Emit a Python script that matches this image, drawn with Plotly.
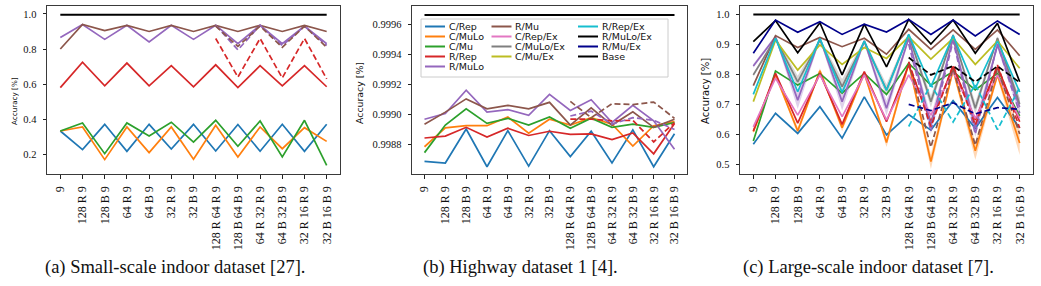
import plotly.graph_objects as go

W, H = 1041, 286

# ---------------- data ----------------
categories = ["9", "128 R 9", "128 B 9", "64 R 9", "64 B 9", "32 R 9", "32 B 9",
              "128 R 64 R 9", "128 B 64 B 9", "64 R 32 R 9", "64 B 32 B 9",
              "32 R 16 R 9", "32 B 16 B 9"]
two_layer_categories = categories[7:]

# (a) Small-scale indoor dataset
a_c_rep = [0.333, 0.227, 0.371, 0.217, 0.371, 0.230, 0.371, 0.219, 0.370, 0.218, 0.371, 0.217, 0.371]
a_c_mulo = [0.333, 0.356, 0.170, 0.356, 0.210, 0.356, 0.172, 0.366, 0.185, 0.356, 0.232, 0.352, 0.274]
a_c_mu = [0.333, 0.379, 0.204, 0.379, 0.305, 0.383, 0.270, 0.394, 0.246, 0.390, 0.185, 0.394, 0.137]
a_r_rep = [0.580, 0.725, 0.590, 0.720, 0.590, 0.705, 0.585, 0.710, 0.580, 0.705, 0.590, 0.705, 0.585]
a_r_mulo = [0.865, 0.940, 0.855, 0.935, 0.840, 0.935, 0.855, 0.935, 0.830, 0.935, 0.830, 0.930, 0.830]
a_r_mu = [0.800, 0.940, 0.905, 0.935, 0.900, 0.935, 0.900, 0.935, 0.900, 0.935, 0.900, 0.935, 0.900]
a_base = [0.995, 0.995, 0.995, 0.995, 0.995, 0.995, 0.995, 0.995, 0.995, 0.995, 0.995, 0.995, 0.995]
a_dash_r_rep = [0.860, 0.640, 0.860, 0.635, 0.860, 0.630]
a_dash_r_mulo = [0.935, 0.795, 0.935, 0.820, 0.930, 0.820]
a_dash_r_mu = [0.930, 0.815, 0.930, 0.810, 0.930, 0.810]

# (b) Highway dataset 1
b_c_rep = [0.998688, 0.998677, 0.998903, 0.998652, 0.998892, 0.998656, 0.998892,
           0.998720, 0.998888, 0.998677, 0.998897, 0.998652, 0.998871]
b_c_mulo = [0.998785, 0.998910, 0.998925, 0.998925, 0.998983, 0.998875, 0.998968,
            0.998929, 0.998978, 0.998935, 0.998789, 0.998925, 0.998953]
b_c_mu = [0.998746, 0.998929, 0.999037, 0.998940, 0.998974, 0.998929, 0.998983,
          0.998908, 0.998974, 0.998914, 0.998935, 0.998914, 0.998946]
b_r_rep = [0.998843, 0.998856, 0.998914, 0.998849, 0.998908, 0.998860, 0.998888,
           0.998867, 0.998871, 0.998832, 0.998877, 0.998738, 0.998940]
b_r_mulo = [0.998968, 0.999006, 0.999161, 0.999015, 0.999032, 0.998994, 0.999133,
            0.999026, 0.999097, 0.998946, 0.999060, 0.998957, 0.998768]
b_r_mu = [0.998935, 0.999015, 0.999103, 0.999037, 0.999060, 0.999037, 0.999080,
          0.998929, 0.999043, 0.998929, 0.999017, 0.998914, 0.998968]
b_base = [0.99966, 0.99966, 0.99966, 0.99966, 0.99966, 0.99966, 0.99966,
          0.99966, 0.99966, 0.99966, 0.99966, 0.99966, 0.99966]
b_dash_r_mu = [0.999086, 0.998978, 0.999071, 0.999065, 0.999082, 0.998974]
b_dash_r_mulo = [0.998989, 0.999022, 0.998935, 0.998978, 0.998961, 0.998900]
b_dash_r_rep = [0.998968, 0.998968, 0.998957, 0.998961, 0.998817, 0.998946]

# (c) Large-scale indoor dataset
c_c_rep = [0.566, 0.669, 0.602, 0.691, 0.586, 0.724, 0.597, 0.665, 0.613, 0.711, 0.619, 0.722, 0.620]
c_c_mulo = [0.608, 0.797, 0.610, 0.811, 0.621, 0.802, 0.572, 0.836, 0.508, 0.813, 0.544, 0.797, 0.570]
c_c_mu = [0.577, 0.810, 0.763, 0.802, 0.736, 0.802, 0.732, 0.836, 0.763, 0.808, 0.747, 0.802, 0.660]
c_r_rep = [0.610, 0.802, 0.636, 0.802, 0.632, 0.808, 0.641, 0.830, 0.641, 0.824, 0.647, 0.824, 0.641]
c_r_mulo = [0.827, 0.924, 0.713, 0.919, 0.708, 0.910, 0.686, 0.919, 0.630, 0.919, 0.620, 0.897, 0.690]
c_r_mu = [0.761, 0.928, 0.888, 0.922, 0.891, 0.919, 0.866, 0.949, 0.882, 0.947, 0.882, 0.947, 0.861]
c_c_rep_ex = [0.624, 0.786, 0.663, 0.797, 0.658, 0.797, 0.647, 0.797, 0.663, 0.808, 0.652, 0.797, 0.652]
c_c_mulo_ex = [0.797, 0.919, 0.774, 0.913, 0.758, 0.908, 0.747, 0.930, 0.708, 0.930, 0.686, 0.920, 0.700]
c_c_mu_ex = [0.708, 0.913, 0.813, 0.897, 0.832, 0.888, 0.852, 0.924, 0.850, 0.919, 0.832, 0.910, 0.819]
c_r_rep_ex = [0.732, 0.919, 0.741, 0.919, 0.739, 0.910, 0.745, 0.932, 0.758, 0.928, 0.752, 0.910, 0.740]
c_r_mulo_ex = [0.908, 0.978, 0.871, 0.971, 0.797, 0.966, 0.824, 0.982, 0.900, 0.980, 0.869, 0.969, 0.774]
c_r_mu_ex = [0.869, 0.980, 0.939, 0.974, 0.932, 0.966, 0.940, 0.982, 0.932, 0.980, 0.927, 0.977, 0.932]
c_base = [0.998, 0.998, 0.998, 0.998, 0.998, 0.998, 0.998, 0.998, 0.998, 0.998, 0.998, 0.998, 0.998]
c_std_c_mulo = [0.006, 0.006, 0.012, 0.008, 0.012, 0.006, 0.015, 0.010, 0.025, 0.010, 0.030, 0.010, 0.040]
c_std_r_mulo = [0.006, 0.006, 0.030, 0.006, 0.030, 0.006, 0.025, 0.008, 0.030, 0.008, 0.030, 0.010, 0.030]
c_std_c_mulo_ex = [0.006, 0.006, 0.020, 0.006, 0.025, 0.006, 0.020, 0.006, 0.020, 0.006, 0.020, 0.006, 0.020]
c_dash_r_mulo_ex = [0.855, 0.797, 0.827, 0.774, 0.826, 0.772]
c_dash_r_mu_ex = [0.699, 0.678, 0.704, 0.667, 0.688, 0.682]
c_dash_r_rep_ex = [0.625, 0.765, 0.640, 0.765, 0.615, 0.755]
c_dash_r_mu = [0.841, 0.556, 0.819, 0.563, 0.819, 0.600]
c_dash_r_mulo = [0.900, 0.610, 0.910, 0.600, 0.900, 0.670]
c_dash_r_rep = [0.840, 0.625, 0.830, 0.630, 0.830, 0.620]

legend_columns = [
    ["C/Rep", "C/MuLo", "C/Mu", "R/Rep", "R/MuLo"],
    ["R/Mu", "C/Rep/Ex", "C/MuLo/Ex", "C/Mu/Ex"],
    ["R/Rep/Ex", "R/MuLo/Ex", "R/Mu/Ex", "Base"],
]

captions = ["(a) Small-scale indoor dataset [27].",
            "(b) Highway dataset 1 [4].",
            "(c) Large-scale indoor dataset [7]."]

# ---------------- styles ----------------
COLORS = {
    "C/Rep": "#1f77b4", "C/MuLo": "#ff7f0e", "C/Mu": "#2ca02c", "R/Rep": "#d62728",
    "R/MuLo": "#9467bd", "R/Mu": "#8c564b", "C/Rep/Ex": "#e377c2", "C/MuLo/Ex": "#7f7f7f",
    "C/Mu/Ex": "#bcbd22", "R/Rep/Ex": "#17becf", "R/MuLo/Ex": "#000000", "R/Mu/Ex": "#00008b",
    "Base": "#000000",
}
SERIF = "Liberation Serif"
SANS = "DejaVu Sans"


def rgba(hexcol, a):
    h = hexcol.lstrip("#")
    return "rgba(%d,%d,%d,%.2f)" % (int(h[0:2], 16), int(h[2:4], 16), int(h[4:6], 16), a)


panels = [
    dict(x="x", y="y",
         solid=[("C/Rep", a_c_rep), ("C/MuLo", a_c_mulo), ("C/Mu", a_c_mu), ("R/Rep", a_r_rep),
                ("R/MuLo", a_r_mulo), ("R/Mu", a_r_mu), ("Base", a_base)],
         dashed=[("R/Rep", a_dash_r_rep), ("R/MuLo", a_dash_r_mulo), ("R/Mu", a_dash_r_mu)],
         bands=[]),
    dict(x="x2", y="y2",
         solid=[("C/Rep", b_c_rep), ("C/MuLo", b_c_mulo), ("C/Mu", b_c_mu), ("R/Rep", b_r_rep),
                ("R/MuLo", b_r_mulo), ("R/Mu", b_r_mu), ("Base", b_base)],
         dashed=[("R/Rep", b_dash_r_rep), ("R/MuLo", b_dash_r_mulo), ("R/Mu", b_dash_r_mu)],
         bands=[]),
    dict(x="x3", y="y3",
         solid=[("C/Rep", c_c_rep), ("C/MuLo", c_c_mulo), ("C/Mu", c_c_mu), ("R/Rep", c_r_rep),
                ("R/MuLo", c_r_mulo), ("R/Mu", c_r_mu), ("C/Rep/Ex", c_c_rep_ex),
                ("C/MuLo/Ex", c_c_mulo_ex), ("C/Mu/Ex", c_c_mu_ex), ("R/Rep/Ex", c_r_rep_ex),
                ("R/MuLo/Ex", c_r_mulo_ex), ("R/Mu/Ex", c_r_mu_ex), ("Base", c_base)],
         dashed=[("R/Mu", c_dash_r_mu), ("R/MuLo", c_dash_r_mulo), ("R/Rep", c_dash_r_rep),
                 ("R/Rep/Ex", c_dash_r_rep_ex), ("R/MuLo/Ex", c_dash_r_mulo_ex),
                 ("R/Mu/Ex", c_dash_r_mu_ex)],
         bands=[("C/MuLo", c_c_mulo, c_std_c_mulo), ("R/MuLo", c_r_mulo, c_std_r_mulo),
                ("C/MuLo/Ex", c_c_mulo_ex, c_std_c_mulo_ex)]),
]

fig = go.Figure()

for p in panels:
    for name, vals, std in p["bands"]:
        upper = [v + s for v, s in zip(vals, std)]
        lower = [v - s for v, s in zip(vals, std)]
        fig.add_trace(go.Scatter(
            x=categories + categories[::-1], y=upper + lower[::-1],
            xaxis=p["x"], yaxis=p["y"], mode="lines", fill="toself",
            fillcolor=rgba(COLORS[name], 0.3), line=dict(width=0),
            showlegend=False, hoverinfo="skip"))
    for name, vals in p["solid"]:
        fig.add_trace(go.Scatter(
            x=categories, y=vals, xaxis=p["x"], yaxis=p["y"], mode="lines", name=name,
            line=dict(color=COLORS[name], width=2.0 if name == "Base" else 1.7),
            showlegend=False))
    for name, vals in p["dashed"]:
        fig.add_trace(go.Scatter(
            x=two_layer_categories, y=vals, xaxis=p["x"], yaxis=p["y"], mode="lines",
            name=name + " (2 layers)",
            line=dict(color=COLORS[name], width=1.7, dash="6px,3px"),
            showlegend=False))

# ---------------- layout ----------------
def px_x(v):
    return v / W


def px_y(v):
    return 1 - v / H


y_dom = [px_y(174), px_y(6)]
x_doms = [[px_x(47), px_x(340)], [px_x(412), px_x(687)], [px_x(740), px_x(1033)]]

YTICKFONT = dict(family=SERIF, size=10.5, color="#111")
XTICKFONT = dict(family=SERIF, size=12, color="#111")


def xcfg(dom, anchor):
    return dict(domain=dom, anchor=anchor, type="category", categoryorder="array",
                categoryarray=categories, range=[-0.6, 12.6], tickangle=-90,
                ticks="outside", ticklen=3.5, tickwidth=0.8, tickcolor="#222",
                ticklabelstandoff=3,
                showline=True, linecolor="#3a3a3a", linewidth=1, mirror=True,
                showgrid=False, zeroline=False, tickfont=XTICKFONT)


def ycfg(anchor, rng, tickvals, fmt):
    return dict(domain=y_dom, anchor=anchor, range=rng, tickvals=tickvals, tickformat=fmt,
                ticks="outside", ticklen=3.5, tickwidth=0.8, tickcolor="#222",
                ticklabelstandoff=4,
                showline=True, linecolor="#3a3a3a", linewidth=1, mirror=True,
                showgrid=False, zeroline=False, tickfont=YTICKFONT)


fig.update_layout(
    width=W, height=H, margin=dict(l=0, r=0, t=0, b=0),
    paper_bgcolor="white", plot_bgcolor="white", showlegend=False,
    font=dict(family=SERIF),
    xaxis=xcfg(x_doms[0], "y"), yaxis=ycfg("x", [0.088, 1.045], [0.2, 0.4, 0.6, 0.8, 1.0], ".1f"),
    xaxis2=xcfg(x_doms[1], "y2"),
    yaxis2=ycfg("x2", [0.998604, 0.99972], [0.9988, 0.9990, 0.9992, 0.9994, 0.9996], ".4f"),
    xaxis3=xcfg(x_doms[2], "y3"),
    yaxis3=ycfg("x3", [0.4667, 1.0267], [0.5, 0.6, 0.7, 0.8, 0.9, 1.0], ".1f"),
)

shapes = []
annotations = []

# y-axis labels
for xc, yc, size in [(14, 101, 7.2), (359, 93, 9.4), (706, 91, 10)]:
    annotations.append(dict(text="Accuracy [%]", x=px_x(xc), y=px_y(yc), xref="paper", yref="paper",
                            textangle=-90, showarrow=False, xanchor="center", yanchor="middle",
                            font=dict(family=SANS, size=size, color="#111")))

# captions
for cap, xc in zip(captions, [175, 520, 868]):
    annotations.append(dict(text=cap, x=px_x(xc), y=px_y(267), xref="paper", yref="paper",
                            showarrow=False, xanchor="center", yanchor="middle",
                            font=dict(family=SERIF, size=18.5, color="#111")))

# legend (panel b), matplotlib-style three columns
shapes.append(dict(type="rect", xref="paper", yref="paper", x0=px_x(421), x1=px_x(668),
                   y0=px_y(77), y1=px_y(19), line=dict(color="#cccccc", width=1),
                   fillcolor="rgba(255,255,255,0.8)", layer="above"))
col_line_x = [425, 491.5, 578]
row_y0, row_dy, line_len, text_gap = 26.5, 10, 20, 2.5
for ci, col in enumerate(legend_columns):
    for ri, name in enumerate(col):
        yy = row_y0 + ri * row_dy
        x0 = col_line_x[ci]
        shapes.append(dict(type="line", xref="paper", yref="paper", x0=px_x(x0), x1=px_x(x0 + line_len),
                           y0=px_y(yy), y1=px_y(yy), line=dict(color=COLORS[name], width=2),
                           layer="above"))
        annotations.append(dict(text=name, x=px_x(x0 + line_len + text_gap), y=px_y(yy),
                                xref="paper", yref="paper", showarrow=False,
                                xanchor="left", yanchor="middle", borderpad=0,
                                font=dict(family=SANS, size=9.5, color="#111")))

fig.update_layout(shapes=shapes, annotations=annotations)

fig.write_html("out.html")
